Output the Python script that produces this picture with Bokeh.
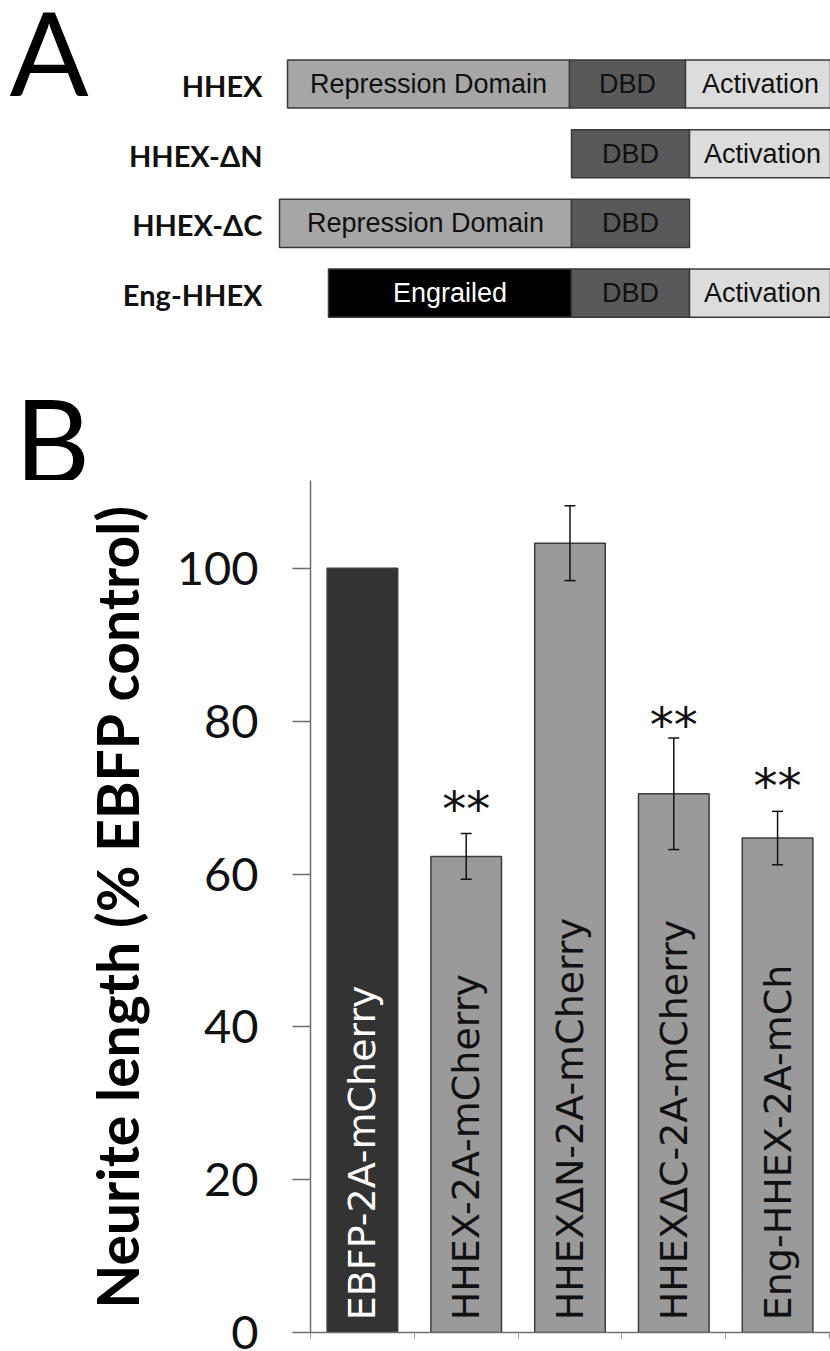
import math
from bokeh.plotting import figure
from bokeh.models import Range1d, FixedTicker, ColumnDataSource, Whisker, TeeHead
from bokeh.layouts import column
from bokeh.embed import file_html
from bokeh.resources import INLINE
from bokeh.core.properties import value

# ---------------- Panel A data (schematic units) ----------------
constructs = ["HHEX", "HHEX-ΔN", "HHEX-ΔC", "Eng-HHEX"]
seg_row = [0, 0, 0, 1, 1, 2, 2, 3, 3, 3]
seg_name = ["Repression Domain", "DBD", "Activation",
            "DBD", "Activation",
            "Repression Domain", "DBD",
            "Engrailed", "DBD", "Activation"]
seg_start = [0, 282, 398, 284, 402, -8, 284, 41, 284, 402]
seg_end = [282, 398, 548, 402, 548, 284, 402, 284, 402, 548]

# ---------------- Panel B data ----------------
categories = ["EBFP-2A-mCherry", "HHEX-2A-mCherry", "HHEXΔN-2A-mCherry",
              "HHEXΔC-2A-mCherry", "Eng-HHEX-2A-mCh"]
means = [100.0, 62.3, 103.3, 70.5, 64.7]
errors = [0.0, 3.0, 4.9, 7.3, 3.5]
significance = ["", "**", "", "**", "**"]
star_y = [None, 69.0, None, 80.0, 72.0]
y_ticks = [0, 20, 40, 60, 80, 100]

DOMAIN_COLORS = {"Repression Domain": "#a6a6a6", "DBD": "#595959",
                 "Activation": "#dcdcdc", "Engrailed": "#000000"}
DOMAIN_TEXT = {"Repression Domain": "#111111", "DBD": "#111111",
               "Activation": "#111111", "Engrailed": "#ffffff"}

W = 830
# ---------------- Panel A figure (also holds the "B" panel letter) ----------------
HA = 480
ROW_PX = 69.7
top_val = -83.5 / ROW_PX
pa = figure(width=W, height=HA, output_backend="svg", toolbar_location=None,
            x_range=Range1d(-287, 543), y_range=Range1d(top_val + HA / ROW_PX, top_val),
            min_border=0, frame_align=False)
pa.xaxis.visible = False
pa.yaxis.visible = False
pa.grid.visible = False
pa.outline_line_color = None

srcA = ColumnDataSource(dict(
    y=seg_row, left=seg_start, right=seg_end, name=seg_name,
    xc=[(a + b) / 2 for a, b in zip(seg_start, seg_end)],
    fill=[DOMAIN_COLORS[n] for n in seg_name],
    tcol=[DOMAIN_TEXT[n] for n in seg_name]))
pa.hbar(y="y", left="left", right="right", height=0.69, source=srcA,
        fill_color="fill", line_color="#3a3a3a", line_width=1.5)
pa.text(x="xc", y="y", text="name", source=srcA, text_color="tcol",
        text_font=value("Liberation Sans"), text_font_size="27px",
        text_align="center", text_baseline="middle")
pa.text(x=[-25] * len(constructs), y=[i + 0.02 for i in range(len(constructs))],
        text=constructs,
        text_font=value("Lato"), text_font_style="bold", text_font_size="29px",
        text_align="right", text_baseline="middle", text_color="#111111")
# panel letters
pa.text(x=[-278, -273], y=[top_val + 50 / ROW_PX, top_val + 438 / ROW_PX],
        text=["A", "B"], text_font=value("Lato"), text_font_size="117px",
        text_align="left", text_baseline="middle", text_color="#000000")

# ---------------- Panel B figure ----------------
HB = 871
n = len(categories)
pb = figure(width=W, height=HB, output_backend="svg", toolbar_location=None,
            x_range=Range1d(0, 5.01), y_range=Range1d(0, 111.5),
            min_border_left=310, min_border_right=0, min_border_top=0,
            min_border_bottom=19, frame_align=False)
pb.grid.visible = False
pb.outline_line_color = None

xc = [i + 0.5 for i in range(n)]
srcB = ColumnDataSource(dict(
    x=xc, top=means, cat=categories,
    fill=["#333333"] + ["#9a9a9a"] * (n - 1),
    tcol=["#ffffff"] + ["#111111"] * (n - 1)))
pb.vbar(x="x", top="top", width=0.68, source=srcB, fill_color="fill",
        line_color="#3c3c3c", line_width=1.5)

ex = [x for x, e in zip(xc, errors) if e > 0]
eu = [m + e for m, e in zip(means, errors) if e > 0]
el = [m - e for m, e in zip(means, errors) if e > 0]
srcE = ColumnDataSource(dict(x=ex, upper=eu, lower=el))
pb.add_layout(Whisker(base="x", upper="upper", lower="lower", source=srcE,
                      level="annotation",
                      line_color="#111111", line_width=1.5,
                      upper_head=TeeHead(size=11, line_color="#111111", line_width=1.5),
                      lower_head=TeeHead(size=11, line_color="#111111", line_width=1.5)))

sx = [x for x, s in zip(xc, significance) if s]
sy = [y for y, s in zip(star_y, significance) if s]
st = [s for s in significance if s]
pb.text(x=sx, y=sy, text=st, text_font=value("DejaVu Sans"), text_font_size="48px",
        text_align="center", text_baseline="middle", y_offset=4, text_color="#111111")

pb.text(x="x", y=1.6, text="cat", source=srcB, angle=math.pi / 2,
        text_align="left", text_baseline="middle", text_color="tcol",
        text_font=value("DejaVu Sans"), text_font_size="38px")

# axes
pb.yaxis.ticker = FixedTicker(ticks=y_ticks)
pb.yaxis.axis_label = "Neurite length (% EBFP control)"
pb.yaxis.axis_label_text_font = "Lato"
pb.yaxis.axis_label_text_font_style = "bold"
pb.yaxis.axis_label_text_font_size = "57px"
pb.yaxis.axis_label_text_color = "#000000"
pb.yaxis.axis_label_standoff = 23
pb.yaxis.major_label_text_font = "Lato"
pb.yaxis.major_label_text_font_size = "47px"
pb.yaxis.major_label_text_color = "#111111"
pb.yaxis.major_label_standoff = 34
pb.yaxis.major_tick_out = 18
pb.yaxis.major_tick_in = 0
pb.yaxis.minor_tick_line_color = None
pb.yaxis.axis_line_color = "#6e6e6e"
pb.yaxis.axis_line_width = 1.5
pb.yaxis.major_tick_line_color = "#6e6e6e"
pb.yaxis.major_tick_line_width = 1.5

pb.xaxis.ticker = FixedTicker(ticks=[0, 1, 2, 3, 4, 5])
pb.xaxis.major_label_text_font_size = "0px"
pb.xaxis.major_label_standoff = 0
pb.xaxis.major_tick_out = 6
pb.xaxis.major_tick_in = 0
pb.xaxis.minor_tick_line_color = None
pb.xaxis.axis_line_color = "#6e6e6e"
pb.xaxis.axis_line_width = 1.5
pb.xaxis.major_tick_line_color = "#9a9a9a"

layout = column(pa, pb, spacing=0)
open("out.html", "w").write(file_html(layout, INLINE))
